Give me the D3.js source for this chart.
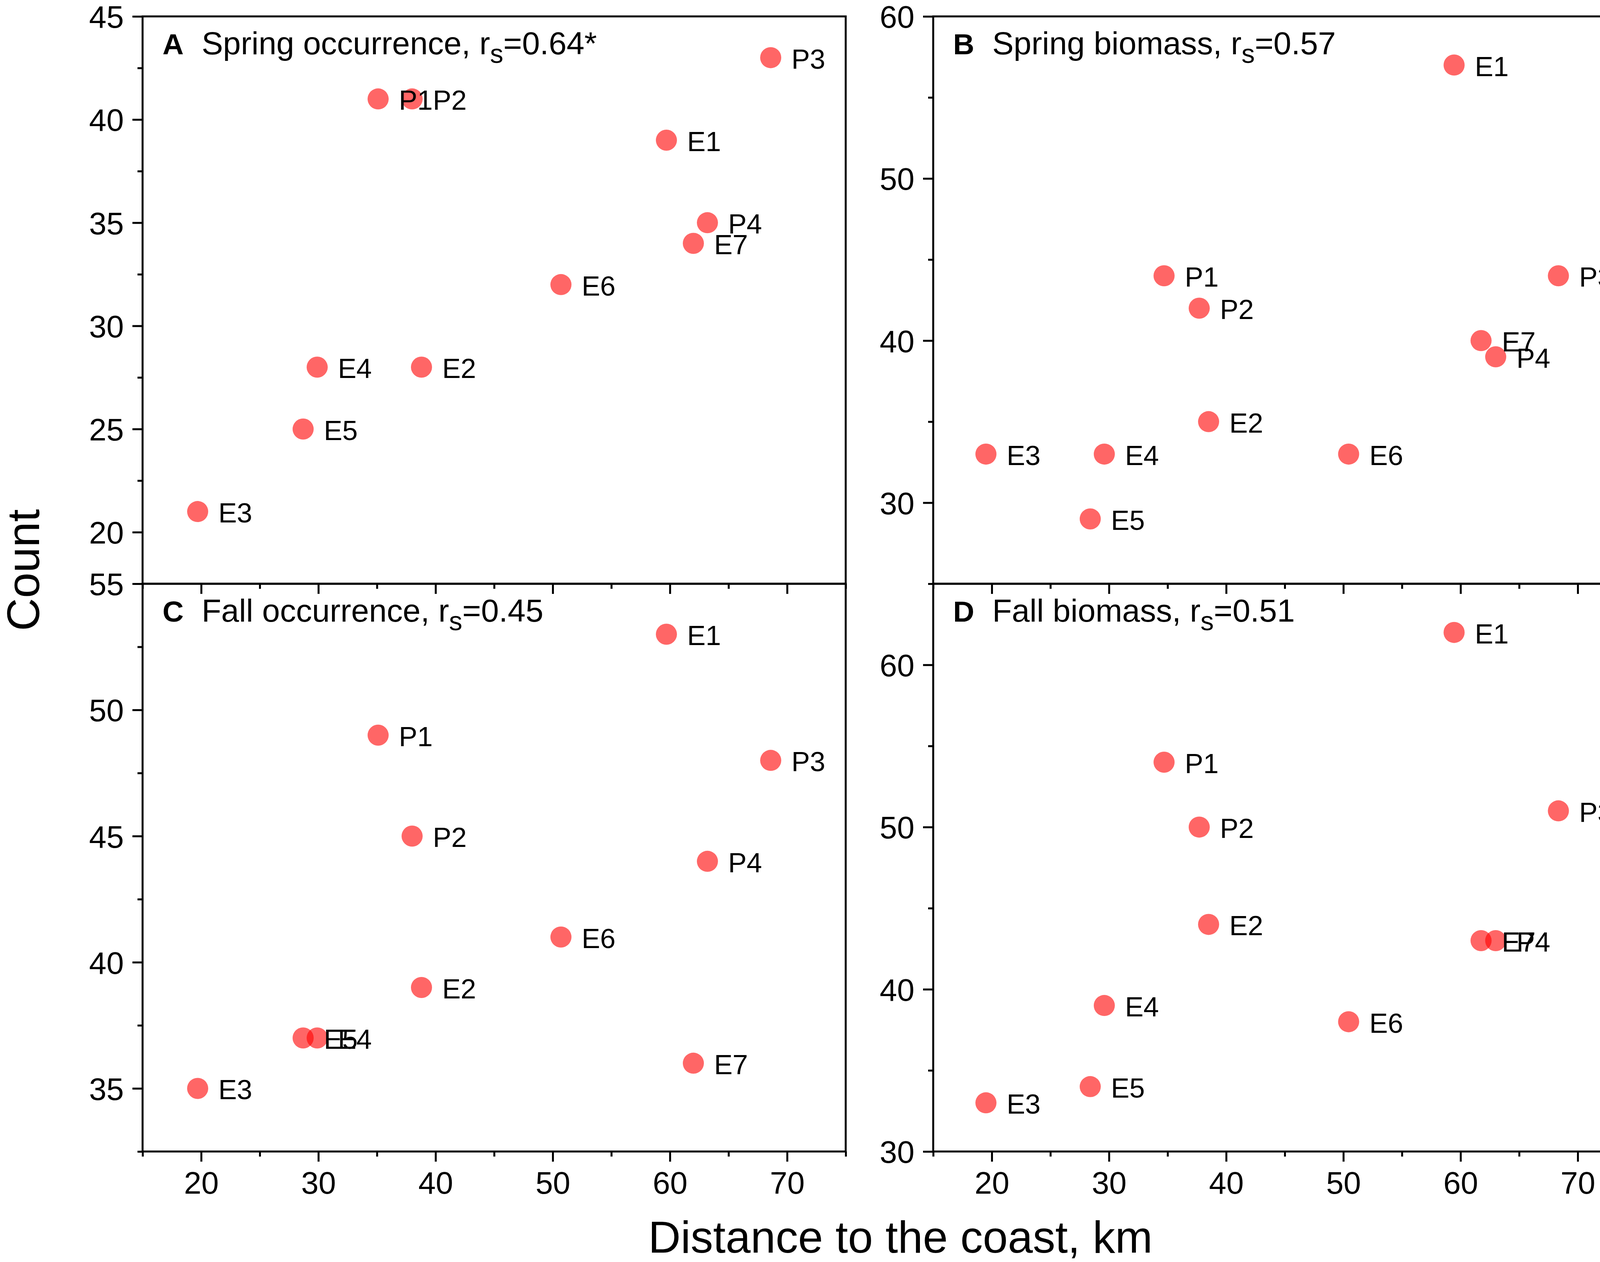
<!DOCTYPE html>
<html>
<head>
<meta charset="utf-8">
<script src="https://cdn.jsdelivr.net/npm/d3@7"></script>
<style>
  html, body { margin: 0; padding: 0; background: #fff; overflow: hidden; }
  svg { display: block; }
  text { font-family: "Liberation Sans", Arial, sans-serif; fill: #000; }
</style>
</head>
<body>
<div id="chart"></div>
<script>
// ---- data ----
const stations = ["E1", "E2", "E3", "E4", "E5", "E6", "E7", "P1", "P2", "P3", "P4"];
// distance to the coast (km), as placed in the occurrence (left) and biomass (right) panels
const distanceOcc = [59.7, 38.8, 19.7, 29.9, 28.7, 50.7, 62.0, 35.1, 38.0, 68.6, 63.2];
const distanceBio = [59.45, 38.5, 19.5, 29.6, 28.4, 50.45, 61.75, 34.7, 37.7, 68.35, 63.0];

const springOccurrence = [39, 28, 21, 28, 25, 32, 34, 41, 41, 43, 35];
const springBiomass    = [57, 35, 33, 33, 29, 33, 40, 44, 42, 44, 39];
const fallOccurrence   = [53, 39, 35, 37, 37, 41, 36, 49, 45, 48, 44];
const fallBiomass      = [62, 44, 33, 39, 34, 38, 43, 54, 50, 51, 43];

const panelLetters = ["A", "B", "C", "D"];
const panelNames = ["Spring occurrence, r", "Spring biomass, r", "Fall occurrence, r", "Fall biomass, r"];
const panelStats = ["=0.64*", "=0.57", "=0.45", "=0.51"];

const xTicks = [20, 30, 40, 50, 60, 70];
const xMinor = [15, 25, 35, 45, 55, 65, 75];
const yTicksA = [20, 25, 30, 35, 40, 45];
const yTicksB = [30, 40, 50, 60];
const yTicksC = [35, 40, 45, 50, 55];
const yTicksD = [30, 40, 50, 60];

const width = 4200, height = 3232;
const colLeft = [365, 2389];
const panelW = 1800;
const rowTop = [42, 1495];
const panelH = [1453, 1454];

const panels = [
  { values: springOccurrence, dist: distanceOcc, yDomain: [17.5, 45], ticks: yTicksA, minorStep: 2.5, col: 0, row: 0 },
  { values: springBiomass,    dist: distanceBio, yDomain: [25, 60],   ticks: yTicksB, minorStep: 5,   col: 1, row: 0 },
  { values: fallOccurrence,   dist: distanceOcc, yDomain: [32.5, 55], ticks: yTicksC, minorStep: 2.5, col: 0, row: 1 },
  { values: fallBiomass,      dist: distanceBio, yDomain: [30, 65],   ticks: yTicksD, minorStep: 5,   col: 1, row: 1 }
];

const svg = d3.select("#chart").append("svg")
  .attr("width", width)
  .attr("height", height);

svg.append("rect").attr("width", width).attr("height", height).attr("fill", "#fff");

panels.forEach((p, i) => {
  const x0 = colLeft[p.col], y0 = rowTop[p.row], h = panelH[p.row];

  const x = d3.scaleLinear().domain([15, 75]).range([x0, x0 + panelW]);
  const y = d3.scaleLinear().domain(p.yDomain).range([y0 + h, y0]);

  const minor = d3.range(p.yDomain[0], p.yDomain[1] + 0.01, p.minorStep)
    .filter(v => !p.ticks.includes(v));

  const g = svg.append("g");

  // minor y ticks
  g.append("g")
    .attr("transform", `translate(${x0},0)`)
    .call(d3.axisLeft(y).tickValues(minor).tickSize(13).tickFormat(""))
    .call(a => a.select(".domain").remove());

  // major y ticks + labels
  g.append("g")
    .attr("transform", `translate(${x0},0)`)
    .call(d3.axisLeft(y).tickValues(p.ticks).tickSize(26).tickPadding(22))
    .call(a => a.select(".domain").remove())
    .selectAll("text").style("font-size", "80px").attr("dy", "0.36em");

  // minor x ticks
  g.append("g")
    .attr("transform", `translate(0,${y0 + h})`)
    .call(d3.axisBottom(x).tickValues(xMinor).tickSize(13).tickFormat(""))
    .call(a => a.select(".domain").remove());

  // major x ticks, labels only on the bottom row
  const xAxis = g.append("g")
    .attr("transform", `translate(0,${y0 + h})`)
    .call(d3.axisBottom(x).tickValues(xTicks).tickSize(26).tickPadding(24)
      .tickFormat(p.row === 1 ? d3.format("d") : ""))
    .call(a => a.select(".domain").remove());
  xAxis.selectAll("text").style("font-size", "80px").attr("dy", "0.72em");

  g.selectAll(".tick line").attr("stroke", "#000").attr("stroke-width", 5);

  // frame
  g.append("rect")
    .attr("x", x0).attr("y", y0)
    .attr("width", panelW).attr("height", h)
    .attr("fill", "none").attr("stroke", "#000").attr("stroke-width", 5);

  // points
  const pts = stations.map((s, k) => ({ name: s, d: p.dist[k], v: p.values[k] }));

  g.selectAll("circle")
    .data(pts)
    .enter()
    .append("circle")
    .attr("cx", d => x(d.d))
    .attr("cy", d => y(d.v))
    .attr("r", 27)
    .attr("fill", "#ff0000")
    .attr("fill-opacity", 0.6);

  g.selectAll(".lbl")
    .data(pts)
    .enter()
    .append("text")
    .attr("class", "lbl")
    .attr("x", d => x(d.d) + 53)
    .attr("y", d => y(d.v) + 28)
    .style("font-size", "71px")
    .text(d => d.name);

  // panel title
  const t = g.append("text")
    .attr("x", x0 + 51)
    .attr("y", y0 + 97)
    .style("font-size", "82px");
  t.append("tspan").style("font-weight", "bold").style("font-size", "75px").text(panelLetters[i]);
  t.append("tspan").attr("dx", 46).text(panelNames[i]);
  t.append("tspan").attr("dy", 22).style("font-size", "68px").text("s");
  t.append("tspan").attr("dy", -22).text(panelStats[i]);
});

// axis titles
svg.append("text")
  .attr("transform", "translate(100,1460) rotate(-90)")
  .attr("text-anchor", "middle")
  .style("font-size", "117px")
  .text("Count");

svg.append("text")
  .attr("x", 2305)
  .attr("y", 3208)
  .attr("text-anchor", "middle")
  .style("font-size", "115px")
  .text("Distance to the coast, km");
</script>
</body>
</html>
